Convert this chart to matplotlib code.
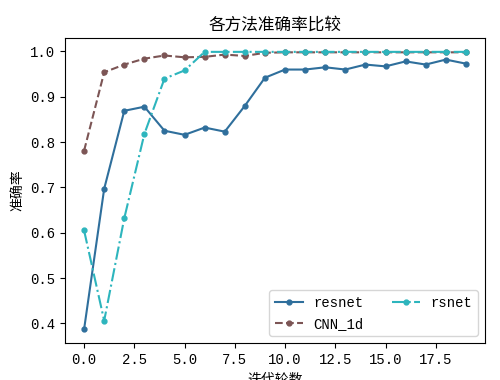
import matplotlib
matplotlib.use('Agg')
import matplotlib.pyplot as plt

# Accuracy per training round for each method
epochs = list(range(20))
resnet = [0.387, 0.697, 0.869, 0.878, 0.825, 0.816, 0.832, 0.823, 0.880, 0.942,
          0.960, 0.960, 0.965, 0.960, 0.971, 0.967, 0.978, 0.971, 0.982, 0.973]
cnn_1d = [0.781, 0.954, 0.971, 0.984, 0.991, 0.987, 0.988, 0.993, 0.990, 0.997,
          0.998, 0.998, 0.998, 0.998, 0.998, 0.998, 0.998, 0.998, 0.998, 0.998]
rsnet = [0.605, 0.406, 0.632, 0.818, 0.940, 0.958, 0.999, 0.999, 0.999, 0.999,
         0.999, 0.999, 0.999, 0.999, 0.999, 0.999, 0.999, 0.999, 0.999, 0.999]

plt.rcParams['font.family'] = ['Liberation Mono', 'Noto Sans CJK SC']

fig = plt.figure(figsize=(5, 3.8), dpi=100)
ax = fig.add_axes([0.13, 0.097, 0.84, 0.803])

ax.plot(epochs, resnet, '-', color='#2f6f9c', marker='o', markersize=3.5,
        linewidth=1.5, label='resnet')
ax.plot(epochs, cnn_1d, '--', color='#7c5555', marker='o', markersize=3.5,
        linewidth=1.5, label='CNN_1d')
ax.plot(epochs, rsnet, '-.', color='#2db5bd', marker='o', markersize=3.5,
        linewidth=1.5, label='rsnet')

ax.set_title('各方法准确率比较')
ax.set_xlabel('迭代轮数')
ax.set_ylabel('准确率')
ax.legend(loc='lower right', ncol=2)

fig.savefig('out.png', dpi=100)
